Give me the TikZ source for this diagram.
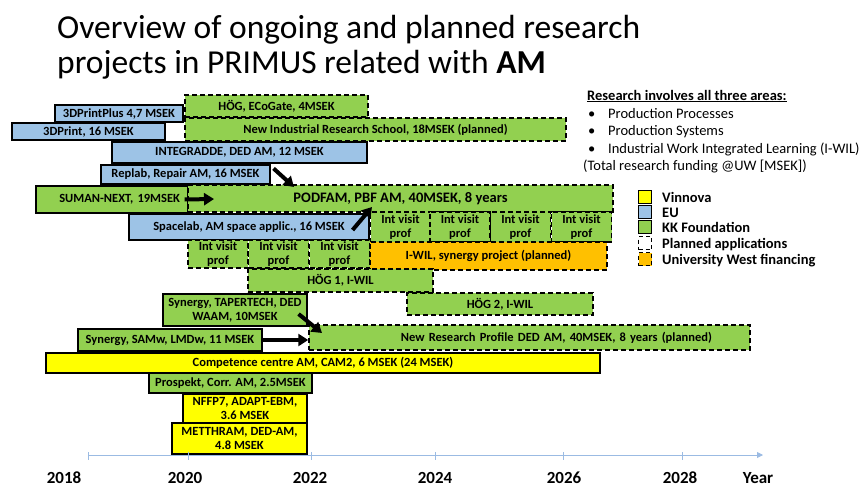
\documentclass[tikz,border=0pt]{standalone}
\usepackage{fontspec}
\setmainfont{Carlito}
\usetikzlibrary{arrows.meta}

\definecolor{kkgreen}{HTML}{92D050}
\definecolor{eublue}{HTML}{9DC3E6}
\definecolor{vinyellow}{HTML}{FFFF00}
\definecolor{uworange}{HTML}{FFC000}
\definecolor{axisblue}{HTML}{9BBBE3}

\newcommand{\boxfont}{\fontsize{12.5}{14.5}\selectfont\bfseries}

\tikzset{
  proj/.style={draw, line width=1.1pt, inner sep=0pt, font=\boxfont, align=center},
  kk/.style={proj, fill=kkgreen},
  eu/.style={proj, fill=eublue},
  vin/.style={proj, fill=vinyellow},
  uw/.style={proj, fill=uworange},
  planned/.style={dash pattern=on 5pt off 3pt, line width=1.5pt},
  wh/.style 2 args={minimum width=#1pt, minimum height=#2pt},
  push/.style={line width=4pt, -{Triangle[length=10pt,width=12pt]}},
  plain/.style={anchor=base west, inner sep=0pt, font=\fontsize{14.5}{16}\selectfont},
  lgtext/.style={plain, font=\fontsize{14.5}{16}\selectfont\bfseries},
  yearlbl/.style={inner sep=0pt, font=\fontsize{17}{18}\selectfont\bfseries}
}

\begin{document}
\begin{tikzpicture}[x=1pt, y=-1pt]
\useasboundingbox (0,0) rectangle (867,487);

\node[anchor=base west, inner sep=0pt, font=\fontsize{33.5}{35}\selectfont] (title1) at (57,39) {Overview of ongoing and planned research};
\node[anchor=base west, inner sep=0pt, font=\fontsize{33.5}{35}\selectfont] (title2) at (57,74) {projects in PRIMUS related with \textbf{AM}};

\node[plain, font=\fontsize{14.5}{16}\selectfont\bfseries] (areas) at (587,100) {\underline{Research involves all three areas:}};
\node[plain] (b1) at (588,118) {\textbullet};
\node[plain] (b2) at (588,135) {\textbullet};
\node[plain] (b3) at (588,153) {\textbullet};
\node[plain] (area1) at (608,118) {Production Processes};
\node[plain] (area2) at (608,135) {Production Systems};
\node[plain] (area3) at (608,153) {Industrial Work Integrated Learning (I-WIL)};
\node[plain] (funding) at (583,170) {(Total research funding @UW [MSEK])};

\node[kk, planned, wh={183}{22}] (hog) at (276.5,106) {HÖG, ECoGate, 4MSEK};
\node[eu, wh={128}{17}] (dpplus) at (119,113.5) {3DPrintPlus 4,7 MSEK};
\node[eu, wh={153}{17}] (dprint) at (88.5,131.5) {3DPrint, 16 MSEK};
\node[kk, planned, wh={381}{23}] (irschool) at (375.5,129.5) {New Industrial Research School, 18MSEK (planned)};
\node[eu, wh={255}{21}] (integ) at (239.5,152.5) {INTEGRADDE, DED AM, 12 MSEK};
\node[eu, wh={169}{19}] (replab) at (185.5,174.5) {Replab, Repair AM, 16 MSEK};
\node[kk, wh={150}{27}, text width=136pt, inner xsep=8pt, align=right] (suman) at (112,199.5) {SUMAN-NEXT, 19MSEK};
\node[kk, planned, wh={425}{27}, font=\fontsize{14.5}{16}\selectfont\bfseries] (podfam) at (400.5,198.5) {PODFAM, PBF AM, 40MSEK, 8 years};
\node[eu, wh={240}{26}] (spacelab) at (249,227) {Spacelab, AM space applic., 16 MSEK};

\foreach \x [count=\i] in {400.5,460,520.5,581.5}
  \node[kk, planned, wh={60}{30}] (ivpa\i) at (\x,227) {Int visit\\prof};
\foreach \x [count=\i] in {218,278.5,339.5}
  \node[kk, planned, wh={60}{28}] (ivpb\i) at (\x,254) {Int visit\\prof};

\node[uw, planned, wh={237}{28}] (iwil) at (488.5,256) {I-WIL, synergy project (planned)};
\node[kk, planned, wh={185}{23}] (hog1) at (340.5,280.5) {HÖG 1, I-WIL};
\node[kk, wh={144}{32}] (taper) at (235,310) {Synergy, TAPERTECH, DED\\WAAM, 10MSEK};
\node[kk, planned, wh={186}{22}] (hog2) at (500,304) {HÖG 2, I-WIL};
\node[kk, planned, wh={441}{25}, text width=365pt, inner xsep=38pt, align=right] (nrp) at (529.5,337.5) {New Research Profile DED AM, 40MSEK, 8 years (planned)};
\node[kk, wh={184}{22}] (samw) at (170,340) {Synergy, SAMw, LMDw, 11 MSEK};
\node[vin, wh={554}{20}] (cam2) at (323,363) {Competence centre AM, CAM2, 6 MSEK (24 MSEK)};
\node[kk, wh={163}{20}] (prospekt) at (230.5,383) {Prospekt, Corr. AM, 2.5MSEK};
\node[vin, wh={124}{29}] (nffp) at (245,408.5) {NFFP7, ADAPT-EBM,\\3.6 MSEK};
\node[vin, wh={135}{31}] (metthram) at (239.5,438.5) {METTHRAM, DED-AM,\\4.8 MSEK};

\coordinate (podA) at (294,187);
\coordinate (podB) at (372,207);
\coordinate (podC) at (214,199);
\coordinate (nrpA) at (322,333);
\draw[push] ([shift={(-4,0)}]suman.east) -- (podC);
\draw[push] ([shift={(3,4)}]replab.north east) -- (podA);
\draw[push] ([shift={(-17,3)}]spacelab.east) -- (podB);
\draw[push] ([shift={(-9,4)}]taper.east) -- (nrpA);
\draw[push] (samw.east) -- (nrp.west |- samw.east);

% legend
\node[vin, line width=1pt, minimum size=13pt] (lgvin) at (645,197) {};
\node[eu, line width=1pt, minimum size=13pt] (lgeu) at (645,212) {};
\node[kk, line width=1pt, minimum size=13pt] (lgkk) at (645,227) {};
\node[draw, dash pattern=on 4pt off 3pt, line width=1.2pt, minimum size=13pt, inner sep=0pt] (lgplan) at (645,243) {};
\node[uw, dash pattern=on 4pt off 3pt, line width=1.2pt, minimum size=13pt] (lguw) at (645,259) {};
\node[lgtext] (lgvintx) at (662,202) {Vinnova};
\node[lgtext] (lgeutx) at (662,217) {EU};
\node[lgtext] (lgkktx) at (662,232) {KK Foundation};
\node[lgtext] (lgplantx) at (662,248) {Planned applications};
\node[lgtext] (lguwtx) at (662,264) {University West financing};

% time axis
\coordinate (axstart) at (88,455);
\coordinate (axend) at (763,455);
\draw[axisblue, line width=0.9pt, -{Triangle[length=6pt,width=6pt]}] (axstart) -- (axend);
\foreach \x in {88,188,311,435,563,682}
  \draw[axisblue, line width=0.8pt] (\x,452) -- (\x,460);
\foreach \x/\yr in {64/2018,185/2020,310/2022,435/2024,564/2026,680/2028,758/Year}
  \node[yearlbl] (yr\yr) at (\x,478) {\yr};

\end{tikzpicture}
\end{document}
